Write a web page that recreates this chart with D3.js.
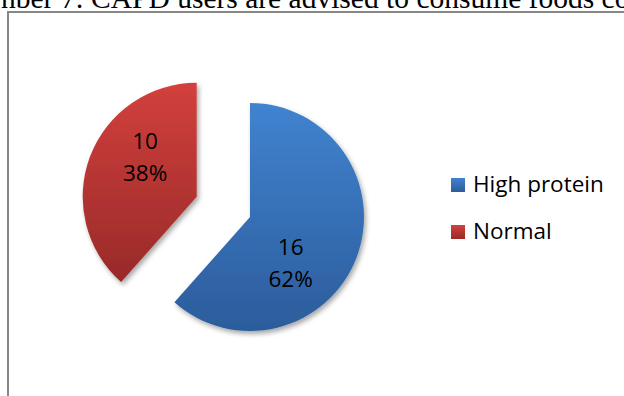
<!DOCTYPE html>
<html>
<head>
<meta charset="utf-8">
<script src="https://cdn.jsdelivr.net/npm/d3@7"></script>
<style>
	html, body { margin: 0; padding: 0; background: #fff; overflow: hidden; }
	svg { display: block; }
	.title { font-family: 'Liberation Serif', 'Times New Roman', serif; font-size: 29.5px; fill: #000; }
	.label, .legend text { font-family: 'Open Sans', sans-serif; font-size: 22.5px; fill: #000; }
</style>
</head>
<body>
<div id="chart"></div>
<script>
// chart data
const categories = ['High protein', 'Normal'];
const counts = [16, 10];
const titleText = 'nber 7: CAPD users are advised to consume foods co';

const width = 624;
const height = 396;

// slice colours, top and bottom of each gradient
const colors = [
	['#4083d0', '#2c5c9b'],
	['#d2403d', '#982a28']
];

const total = d3.sum(counts);
const pct = d3.format('.0%');

const svg = d3.select('#chart').append('svg')
				.attr('width', width)
				.attr('height', height);

const defs = svg.append('defs');

colors.forEach((c, i) => {
	let g = defs.append('linearGradient')
				.attr('id', `grad${i}`)
				.attr('x1', 0).attr('y1', 0)
				.attr('x2', 0).attr('y2', 1);
	g.append('stop').attr('offset', '0%').attr('stop-color', c[0]);
	g.append('stop').attr('offset', '100%').attr('stop-color', c[1]);
});

defs.append('filter')
	.attr('id', 'shadow')
	.attr('x', '-20%').attr('y', '-20%')
	.attr('width', '140%').attr('height', '140%')
	.append('feDropShadow')
		.attr('dx', 2)
		.attr('dy', 3)
		.attr('stdDeviation', 2.5)
		.attr('flood-color', '#000')
		.attr('flood-opacity', 0.35);

// page title, cut off by the top edge
svg.append('text')
	.attr('class', 'title')
	.attr('x', 1)
	.attr('y', 8)
	.text(titleText);

// chart area border
svg.append('rect')
	.attr('x', 8)
	.attr('y', 12)
	.attr('width', 800)
	.attr('height', 600)
	.attr('fill', 'none')
	.attr('stroke', '#878787')
	.attr('stroke-width', 2);

// pie
const cx = 250, cy = 217, radius = 114;
const explode = [0, 57];
const labelShift = [[-18, 25], [7, -17]];

const pie = d3.pie().sort(null).value(d => d);
const arc = d3.arc().innerRadius(0).outerRadius(radius);
const labelArc = d3.arc().innerRadius(radius * 0.55).outerRadius(radius * 0.55);

const slices = svg.append('g')
				.attr('transform', `translate(${cx},${cy})`)
				.selectAll('g')
				.data(pie(counts))
				.join('g')
				.attr('transform', (d, i) => {
					let mid = (d.startAngle + d.endAngle) / 2;
					let [x, y] = d3.pointRadial(mid, explode[i]);
					return `translate(${x},${y})`;
				});

slices.append('path')
	.attr('d', arc)
	.attr('fill', (d, i) => `url(#grad${i})`)
	.attr('filter', 'url(#shadow)');

const labels = slices.append('text')
	.attr('class', 'label')
	.attr('text-anchor', 'middle')
	.attr('transform', (d, i) => {
		let [x, y] = labelArc.centroid(d);
		return `translate(${x + labelShift[i][0]},${y + labelShift[i][1]})`;
	});

labels.append('tspan')
	.attr('x', 0)
	.attr('y', -9)
	.text(d => d.data);

labels.append('tspan')
	.attr('x', 0)
	.attr('y', 23)
	.text(d => pct(d.data / total));

// legend
const legend = svg.append('g')
				.attr('class', 'legend')
				.attr('transform', 'translate(451,178)')
				.selectAll('g')
				.data(categories)
				.join('g')
				.attr('transform', (d, i) => `translate(0,${i * 47})`);

legend.append('rect')
	.attr('width', 14)
	.attr('height', 14)
	.attr('fill', (d, i) => `url(#grad${i})`);

legend.append('text')
	.attr('x', 22)
	.attr('y', 14)
	.text(d => d);
</script>
</body>
</html>
